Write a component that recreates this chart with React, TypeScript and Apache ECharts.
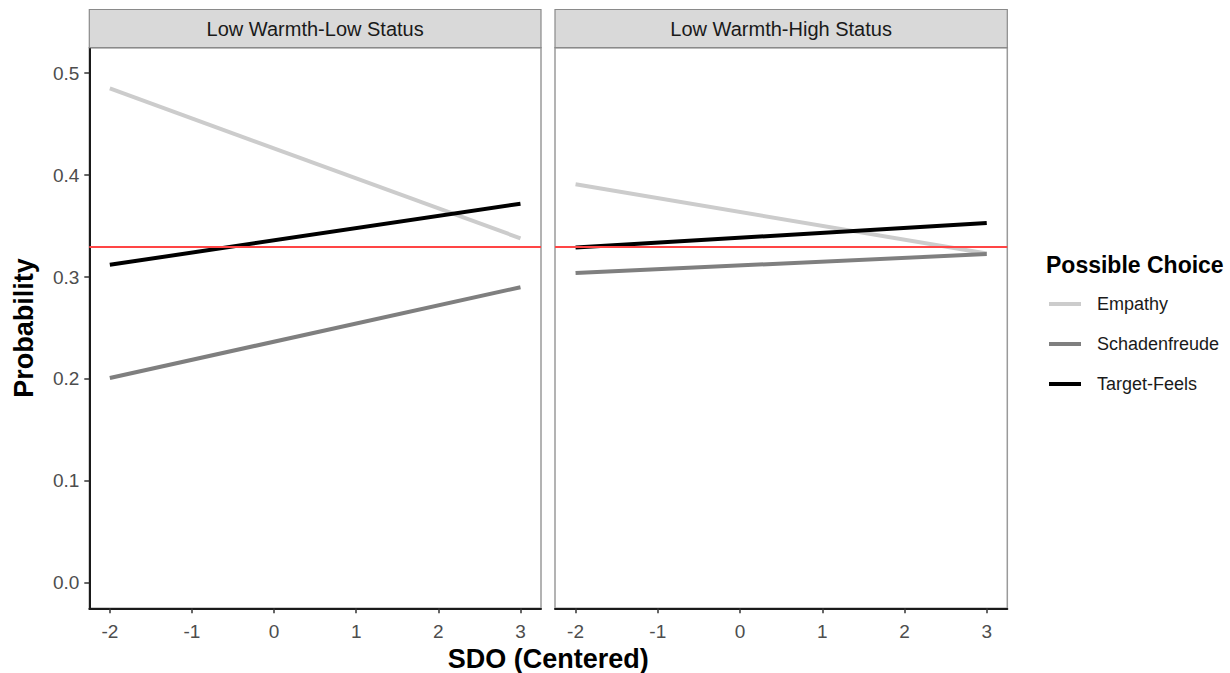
import React, { useEffect, useRef } from "react";
import * as echarts from "echarts";

// ---- data ----
const panels = ["Low Warmth-Low Status", "Low Warmth-High Status"];
const choices = ["Empathy", "Schadenfreude", "Target-Feels"];
const sdoPoints = [-2, 3];
const xTicks = [-2, -1, 0, 1, 2, 3];
const yTicks = [0, 0.1, 0.2, 0.3, 0.4, 0.5];

const lowLowEmpathy = [0.485, 0.338];
const lowLowSchadenfreude = [0.201, 0.29];
const lowLowTargetFeels = [0.312, 0.372];

const lowHighEmpathy = [0.391, 0.323];
const lowHighSchadenfreude = [0.304, 0.3225];
const lowHighTargetFeels = [0.329, 0.353];

const referenceLine = 0.33;

const panelValues = [
  [lowLowEmpathy, lowLowSchadenfreude, lowLowTargetFeels],
  [lowHighEmpathy, lowHighSchadenfreude, lowHighTargetFeels],
];

// ---- styling ----
const FONT = "'Liberation Sans', Arial, Helvetica, sans-serif";
const choiceColors = ["#cccccc", "#7f7f7f", "#000000"];
const gridTop = 47.7;
const gridHeight = 560.6;
const gridBoxes = [
  { left: 89.3, width: 451.7 },
  { left: 555, width: 452.3 },
];
const stripTop = 9.5;

export default function App() {
  const ref = useRef<HTMLDivElement>(null);

  useEffect(() => {
    document.body.style.margin = "0";
    const chart = echarts.init(ref.current!, null, { renderer: "svg" });

    const grid = gridBoxes.map((g) => ({
      left: g.left,
      width: g.width,
      top: gridTop,
      height: gridHeight,
      show: true,
      borderColor: "#9a9a9a",
      borderWidth: 1.5,
      backgroundColor: "#ffffff",
      containLabel: false,
    }));

    const xAxis = gridBoxes.map((_, i) => ({
      type: "value",
      gridIndex: i,
      min: -2.25,
      max: 3.25,
      axisLine: { show: true, onZero: false, lineStyle: { color: "#1a1a1a", width: 2 } },
      axisTick: {
        show: true,
        length: 5,
        customValues: xTicks,
        lineStyle: { color: "#333333", width: 1.5 },
      },
      axisLabel: {
        show: true,
        customValues: xTicks,
        margin: 14,
        fontSize: 19,
        color: "#4d4d4d",
        fontFamily: FONT,
        formatter: (v: number) => String(v),
      },
      splitLine: { show: false },
    }));

    const yAxis = gridBoxes.map((_, i) => ({
      type: "value",
      gridIndex: i,
      min: -0.025,
      max: 0.525,
      axisLine: { show: i === 0, onZero: false, lineStyle: { color: "#1a1a1a", width: 2 } },
      axisTick: {
        show: i === 0,
        length: 5,
        customValues: yTicks,
        lineStyle: { color: "#333333", width: 1.5 },
      },
      axisLabel: {
        show: i === 0,
        customValues: yTicks,
        margin: 10,
        fontSize: 19,
        color: "#4d4d4d",
        fontFamily: FONT,
        formatter: (v: number) => v.toFixed(1),
      },
      splitLine: { show: false },
    }));

    const series: any[] = [];
    panelValues.forEach((vals, i) => {
      vals.forEach((v, j) => {
        const s: any = {
          type: "line",
          name: choices[j],
          xAxisIndex: i,
          yAxisIndex: i,
          data: sdoPoints.map((x, k) => [x, v[k]]),
          showSymbol: false,
          symbol: "none",
          lineStyle: { color: choiceColors[j], width: 4 },
          itemStyle: { color: choiceColors[j] },
          z: 2 + j,
        };
        if (j === vals.length - 1) {
          s.markLine = {
            silent: true,
            symbol: ["none", "none"],
            label: { show: false },
            lineStyle: { color: "#ff4545", width: 2, type: "solid" },
            data: [{ yAxis: referenceLine }],
          };
        }
        series.push(s);
      });
    });

    const graphic: any[] = [];
    gridBoxes.forEach((g, i) => {
      graphic.push({
        type: "rect",
        shape: { x: g.left, y: stripTop, width: g.width, height: gridTop - stripTop },
        style: { fill: "#d9d9d9", stroke: "#8a8a8a", lineWidth: 1.2 },
        z: 10,
      });
      graphic.push({
        type: "text",
        x: g.left + g.width / 2,
        y: (stripTop + gridTop) / 2,
        style: {
          text: panels[i],
          fontSize: 20,
          fontFamily: FONT,
          fill: "#1a1a1a",
          textAlign: "center",
          textVerticalAlign: "middle",
        },
        z: 11,
      });
    });
    graphic.push({
      type: "text",
      x: 24,
      y: gridTop + gridHeight / 2,
      rotation: Math.PI / 2,
      style: {
        text: "Probability",
        fontSize: 27,
        fontWeight: "bold",
        fontFamily: FONT,
        fill: "#000000",
        textAlign: "center",
        textVerticalAlign: "middle",
      },
    });
    graphic.push({
      type: "text",
      x: (gridBoxes[0].left + gridBoxes[1].left + gridBoxes[1].width) / 2,
      y: 659,
      style: {
        text: "SDO (Centered)",
        fontSize: 27,
        fontWeight: "bold",
        fontFamily: FONT,
        fill: "#000000",
        textAlign: "center",
        textVerticalAlign: "middle",
      },
    });
    graphic.push({
      type: "text",
      x: 1046,
      y: 265,
      style: {
        text: "Possible Choice",
        fontSize: 23,
        fontWeight: "bold",
        fontFamily: FONT,
        fill: "#000000",
        textAlign: "left",
        textVerticalAlign: "middle",
      },
    });

    chart.setOption({
      animation: false,
      backgroundColor: "#ffffff",
      grid,
      xAxis,
      yAxis,
      series,
      graphic,
      legend: {
        data: choices,
        orient: "vertical",
        left: 1049,
        top: 294,
        icon: "rect",
        itemWidth: 32,
        itemHeight: 4,
        itemGap: 20,
        padding: 0,
        selectedMode: false,
        textStyle: {
          fontSize: 18,
          lineHeight: 20,
          color: "#1a1a1a",
          fontFamily: FONT,
          padding: [0, 0, 0, 11],
        },
      },
    });

    return () => chart.dispose();
  }, []);

  return <div ref={ref} style={{ width: 1230, height: 673 }} />;
}
